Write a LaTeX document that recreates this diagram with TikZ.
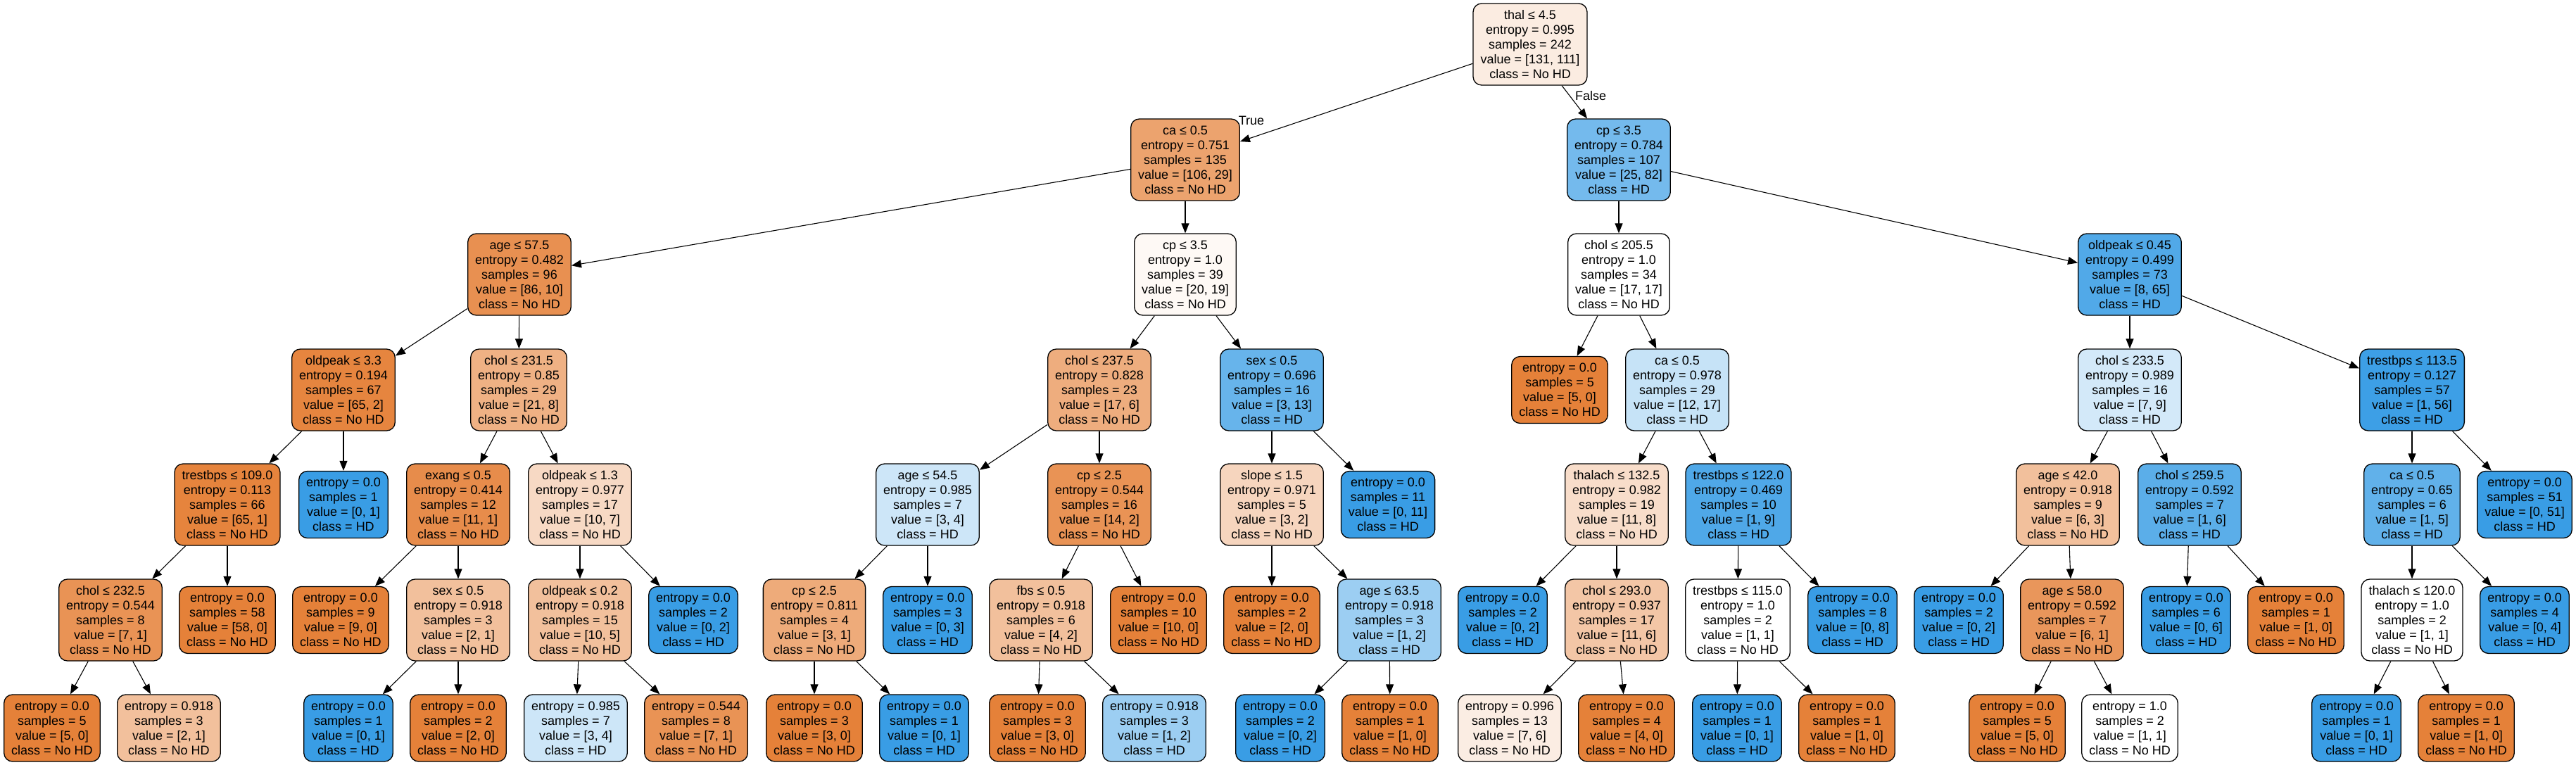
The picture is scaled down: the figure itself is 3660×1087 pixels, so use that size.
\documentclass[tikz,border=0pt]{standalone}
\usepackage{fontspec}
\setmainfont{Liberation Sans}
\usetikzlibrary{arrows.meta}
\definecolor{noHD}{HTML}{E58139}
\definecolor{HD}{HTML}{399DE5}
\tikzset{>={Triangle[length=14pt,width=11pt]}}
\tikzset{
  box/.style={draw, rounded corners=12pt, line width=1.3pt, align=center,
    inner xsep=10.5pt, inner ysep=1pt, font=\fontsize{18}{21}\selectfont},
  splitbox/.style={box, minimum height=116pt},
  leafbox/.style={box, minimum height=95pt},
  nohd/.style={fill=noHD!#1!white},
  hd/.style={fill=HD!#1!white}
}
\newcommand{\stats}[4]{entropy = #1\\samples = #2\\value = [#3]\\class = #4}

\begin{document}
\begin{tikzpicture}[x=1pt,y=-1pt]
	\useasboundingbox (0,0) rectangle (3660,1087);
	% level 0 and 1
	\node[splitbox, nohd=15] (root) at (2174,63) {thal ≤ 4.5\\\stats{0.995}{242}{131, 111}{No HD}};
	\node[splitbox, nohd=73] (ca1) at (1684,227) {ca ≤ 0.5\\\stats{0.751}{135}{106, 29}{No HD}};
	\node[splitbox, hd=70] (cp1) at (2300,227) {cp ≤ 3.5\\\stats{0.784}{107}{25, 82}{HD}};
	% level 2
	\node[splitbox, nohd=88] (age1) at (738,390) {age ≤ 57.5\\\stats{0.482}{96}{86, 10}{No HD}};
	\node[splitbox, nohd=5] (cp2) at (1684,390) {cp ≤ 3.5\\\stats{1.0}{39}{20, 19}{No HD}};
	\node[splitbox, nohd=0] (cholA) at (2300,390) {chol ≤ 205.5\\\stats{1.0}{34}{17, 17}{No HD}};
	\node[splitbox, hd=88] (old1) at (3026,390) {oldpeak ≤ 0.45\\\stats{0.499}{73}{8, 65}{HD}};
	% level 3
	\node[splitbox, nohd=97] (old2) at (488,554) {oldpeak ≤ 3.3\\\stats{0.194}{67}{65, 2}{No HD}};
	\node[splitbox, nohd=62] (chol2) at (737,554) {chol ≤ 231.5\\\stats{0.85}{29}{21, 8}{No HD}};
	\node[splitbox, nohd=65] (chol3) at (1562,554) {chol ≤ 237.5\\\stats{0.828}{23}{17, 6}{No HD}};
	\node[splitbox, hd=77] (sex1) at (1807,554) {sex ≤ 0.5\\\stats{0.696}{16}{3, 13}{HD}};
	\node[leafbox, nohd=100] (lf5a) at (2216,554) {\stats{0.0}{5}{5, 0}{No HD}};
	\node[splitbox, hd=29] (ca2) at (2383,554) {ca ≤ 0.5\\\stats{0.978}{29}{12, 17}{HD}};
	\node[splitbox, hd=22] (chol4) at (3026,554) {chol ≤ 233.5\\\stats{0.989}{16}{7, 9}{HD}};
	\node[splitbox, hd=98] (trest1) at (3427,554) {trestbps ≤ 113.5\\\stats{0.127}{57}{1, 56}{HD}};
	% level 4
	\node[splitbox, nohd=98] (trest2) at (323,717) {trestbps ≤ 109.0\\\stats{0.113}{66}{65, 1}{No HD}};
	\node[leafbox, hd=100] (lf01a) at (488,717) {\stats{0.0}{1}{0, 1}{HD}};
	\node[splitbox, nohd=91] (exang) at (651,717) {exang ≤ 0.5\\\stats{0.414}{12}{11, 1}{No HD}};
	\node[splitbox, nohd=30] (old3) at (824,717) {oldpeak ≤ 1.3\\\stats{0.977}{17}{10, 7}{No HD}};
	\node[splitbox, hd=25] (age2) at (1318,717) {age ≤ 54.5\\\stats{0.985}{7}{3, 4}{HD}};
	\node[splitbox, nohd=86] (cp3) at (1562,717) {cp ≤ 2.5\\\stats{0.544}{16}{14, 2}{No HD}};
	\node[splitbox, nohd=33] (slope) at (1807,717) {slope ≤ 1.5\\\stats{0.971}{5}{3, 2}{No HD}};
	\node[leafbox, hd=100] (lf011) at (1972,717) {\stats{0.0}{11}{0, 11}{HD}};
	\node[splitbox, nohd=27] (thal1) at (2297,717) {thalach ≤ 132.5\\\stats{0.982}{19}{11, 8}{No HD}};
	\node[splitbox, hd=89] (trest3) at (2470,717) {trestbps ≤ 122.0\\\stats{0.469}{10}{1, 9}{HD}};
	\node[splitbox, nohd=50] (age3) at (2938,717) {age ≤ 42.0\\\stats{0.918}{9}{6, 3}{No HD}};
	\node[splitbox, hd=83] (chol5) at (3111,717) {chol ≤ 259.5\\\stats{0.592}{7}{1, 6}{HD}};
	\node[splitbox, hd=80] (ca3) at (3427,717) {ca ≤ 0.5\\\stats{0.65}{6}{1, 5}{HD}};
	\node[leafbox, hd=100] (lf051) at (3587,717) {\stats{0.0}{51}{0, 51}{HD}};
	% level 5
	\node[splitbox, nohd=86] (chol6) at (157,881) {chol ≤ 232.5\\\stats{0.544}{8}{7, 1}{No HD}};
	\node[leafbox, nohd=100] (lf580) at (323,881) {\stats{0.0}{58}{58, 0}{No HD}};
	\node[leafbox, nohd=100] (lf90) at (484,881) {\stats{0.0}{9}{9, 0}{No HD}};
	\node[splitbox, nohd=50] (sex2) at (651,881) {sex ≤ 0.5\\\stats{0.918}{3}{2, 1}{No HD}};
	\node[splitbox, nohd=50] (old4) at (824,881) {oldpeak ≤ 0.2\\\stats{0.918}{15}{10, 5}{No HD}};
	\node[leafbox, hd=100] (lf02a) at (985,881) {\stats{0.0}{2}{0, 2}{HD}};
	\node[splitbox, nohd=67] (cp4) at (1157,881) {cp ≤ 2.5\\\stats{0.811}{4}{3, 1}{No HD}};
	\node[leafbox, hd=100] (lf03) at (1318,881) {\stats{0.0}{3}{0, 3}{HD}};
	\node[splitbox, nohd=50] (fbs) at (1479,881) {fbs ≤ 0.5\\\stats{0.918}{6}{4, 2}{No HD}};
	\node[leafbox, nohd=100] (lf100) at (1646,881) {\stats{0.0}{10}{10, 0}{No HD}};
	\node[leafbox, nohd=100] (lf20a) at (1807,881) {\stats{0.0}{2}{2, 0}{No HD}};
	\node[splitbox, hd=50] (age4) at (1974,881) {age ≤ 63.5\\\stats{0.918}{3}{1, 2}{HD}};
	\node[leafbox, hd=100] (lf02b) at (2135,881) {\stats{0.0}{2}{0, 2}{HD}};
	\node[splitbox, nohd=45] (chol7) at (2297,881) {chol ≤ 293.0\\\stats{0.937}{17}{11, 6}{No HD}};
	\node[splitbox, nohd=0] (trest4) at (2469,881) {trestbps ≤ 115.0\\\stats{1.0}{2}{1, 1}{No HD}};
	\node[leafbox, hd=100] (lf08) at (2632,881) {\stats{0.0}{8}{0, 8}{HD}};
	\node[leafbox, hd=100] (lf02c) at (2783,881) {\stats{0.0}{2}{0, 2}{HD}};
	\node[splitbox, nohd=83] (age5) at (2944,881) {age ≤ 58.0\\\stats{0.592}{7}{6, 1}{No HD}};
	\node[leafbox, hd=100] (lf06) at (3106,881) {\stats{0.0}{6}{0, 6}{HD}};
	\node[leafbox, nohd=100] (lf10a) at (3262,881) {\stats{0.0}{1}{1, 0}{No HD}};
	\node[splitbox, nohd=0] (thal2) at (3427,881) {thalach ≤ 120.0\\\stats{1.0}{2}{1, 1}{No HD}};
	\node[leafbox, hd=100] (lf04) at (3587,881) {\stats{0.0}{4}{0, 4}{HD}};
	% level 6
	\node[leafbox, nohd=100] (lf50a) at (74,1034.5) {\stats{0.0}{5}{5, 0}{No HD}};
	\node[leafbox, nohd=50] (lf21) at (240,1034.5) {\stats{0.918}{3}{2, 1}{No HD}};
	\node[leafbox, hd=100] (lf01b) at (495,1034.5) {\stats{0.0}{1}{0, 1}{HD}};
	\node[leafbox, nohd=100] (lf20b) at (651,1034.5) {\stats{0.0}{2}{2, 0}{No HD}};
	\node[leafbox, hd=25] (lf34) at (818,1034.5) {\stats{0.985}{7}{3, 4}{HD}};
	\node[leafbox, nohd=86] (lf71) at (989,1034.5) {\stats{0.544}{8}{7, 1}{No HD}};
	\node[leafbox, nohd=100] (lf30a) at (1157,1034.5) {\stats{0.0}{3}{3, 0}{No HD}};
	\node[leafbox, hd=100] (lf01c) at (1313,1034.5) {\stats{0.0}{1}{0, 1}{HD}};
	\node[leafbox, nohd=100] (lf30b) at (1474,1034.5) {\stats{0.0}{3}{3, 0}{No HD}};
	\node[leafbox, hd=50] (lf12) at (1640,1034.5) {\stats{0.918}{3}{1, 2}{HD}};
	\node[leafbox, hd=100] (lf02d) at (1819,1034.5) {\stats{0.0}{2}{0, 2}{HD}};
	\node[leafbox, nohd=100] (lf10b) at (1975,1034.5) {\stats{0.0}{1}{1, 0}{No HD}};
	\node[leafbox, nohd=14] (lf76) at (2145,1034.5) {\stats{0.996}{13}{7, 6}{No HD}};
	\node[leafbox, nohd=100] (lf40) at (2311,1034.5) {\stats{0.0}{4}{4, 0}{No HD}};
	\node[leafbox, hd=100] (lf01d) at (2468,1034.5) {\stats{0.0}{1}{0, 1}{HD}};
	\node[leafbox, nohd=100] (lf10c) at (2624,1034.5) {\stats{0.0}{1}{1, 0}{No HD}};
	\node[leafbox, nohd=100] (lf50b) at (2866,1034.5) {\stats{0.0}{5}{5, 0}{No HD}};
	\node[leafbox, nohd=0] (lf11) at (3026,1034.5) {\stats{1.0}{2}{1, 1}{No HD}};
	\node[leafbox, hd=100] (lf01e) at (3348,1034.5) {\stats{0.0}{1}{0, 1}{HD}};
	\node[leafbox, nohd=100] (lf10d) at (3504,1034.5) {\stats{0.0}{1}{1, 0}{No HD}};
	% branches
	\foreach \a/\b in {root/ca1, root/cp1, ca1/age1, ca1/cp2, cp1/cholA, cp1/old1,
		age1/old2, age1/chol2, cp2/chol3, cp2/sex1, cholA/lf5a, cholA/ca2,
		old1/chol4, old1/trest1, old2/trest2, old2/lf01a, chol2/exang, chol2/old3,
		chol3/age2, chol3/cp3, sex1/slope, sex1/lf011, ca2/thal1, ca2/trest3,
		chol4/age3, chol4/chol5, trest1/ca3, trest1/lf051, trest2/chol6, trest2/lf580,
		exang/lf90, exang/sex2, old3/old4, old3/lf02a, age2/cp4, age2/lf03,
		cp3/fbs, cp3/lf100, slope/lf20a, slope/age4, thal1/lf02b, thal1/chol7,
		trest3/trest4, trest3/lf08, age3/lf02c, age3/age5, chol5/lf06, chol5/lf10a,
		ca3/thal2, ca3/lf04, chol6/lf50a, chol6/lf21, sex2/lf01b, sex2/lf20b,
		old4/lf34, old4/lf71, cp4/lf30a, cp4/lf01c, fbs/lf30b, fbs/lf12,
		age4/lf02d, age4/lf10b, chol7/lf76, chol7/lf40, trest4/lf01d, trest4/lf10c,
		age5/lf50b, age5/lf11, thal2/lf01e, thal2/lf10d}
	\draw [->, line width=1.1pt] (\a) -- (\b);
	\node[font=\fontsize{18}{21}\selectfont] (truelbl) at (1778,171) {True};
	\node[font=\fontsize{18}{21}\selectfont] (falselbl) at (2260,136) {False};
\end{tikzpicture}
\end{document}
